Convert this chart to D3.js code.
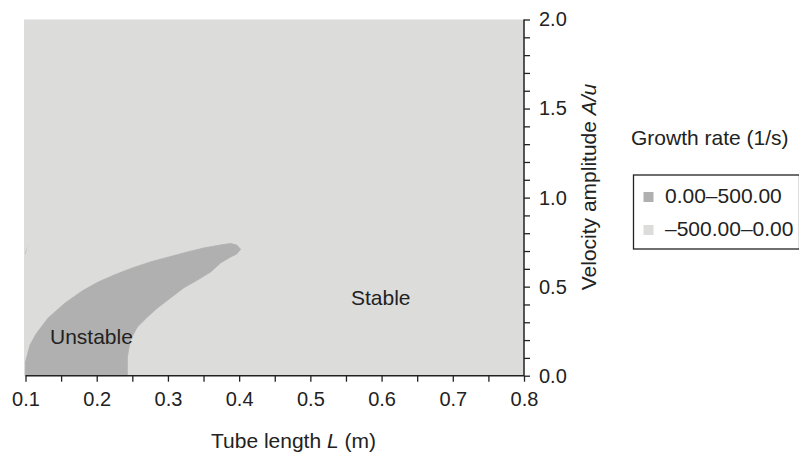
<!DOCTYPE html>
<html><head><meta charset="utf-8">
<script src="https://cdn.jsdelivr.net/npm/d3@7"></script>
<style>body{margin:0;background:#fff}svg text{font-family:"Liberation Sans",Arial,sans-serif;fill:#222}</style>
</head><body><svg id="c" width="799" height="454"></svg>
<script>
// Unstable region boundary (tube length L in m, velocity amplitude A/u)
const unstableL = [0.100,0.100,0.1063,0.1148,0.1317,0.1556,0.1796,0.2021,0.2261,0.2500,0.2754,0.3035,0.3275,0.3500,0.3739,0.3880,0.3965,0.4021,0.3965,0.3880,0.3739,0.3599,0.3415,0.3218,0.3035,0.2852,0.2711,0.2570,0.2472,0.2430,0.2430];
const unstableA = [0.000,0.077,0.172,0.234,0.324,0.408,0.476,0.526,0.568,0.605,0.639,0.669,0.695,0.717,0.734,0.742,0.734,0.710,0.683,0.667,0.633,0.582,0.537,0.492,0.436,0.380,0.329,0.273,0.200,0.105,0.000];
const sliverL = [0.1000,0.1035,0.1010,0.1000];
const sliverA = [0.690,0.740,0.700,0.680];
const xTicks = [0.1,0.2,0.3,0.4,0.5,0.6,0.7,0.8];
const yTicks = [0.0,0.5,1.0,1.5,2.0];
const legendLabels = ["0.00\u2013500.00","\u2013500.00\u20130.00"];
const legendColors = ["#b0b0b0","#dcdcdb"];

const svg = d3.select("#c");
const x = d3.scaleLinear().domain([0.1,0.8]).range([25.5,524]);
const y = d3.scaleLinear().domain([0,2]).range([375.7,19.5]);

svg.append("rect").attr("x",x(0.1)-1.5).attr("y",y(2)).attr("width",x(0.8)-x(0.1)+1.5).attr("height",y(0)-y(2)).attr("fill",legendColors[1]);

const lineLin = d3.line().x(d=>x(d[0])).y(d=>y(d[1]));
svg.append("path").attr("d",lineLin(d3.zip(unstableL,unstableA))+"Z").attr("fill",legendColors[0]).attr("stroke",legendColors[0]).attr("stroke-width",0.8).attr("stroke-linejoin","round");
svg.append("path").attr("d",lineLin(d3.zip(sliverL,sliverA))+"Z").attr("fill","#8a8a8a");

// x axis
const xa = svg.append("g").attr("transform",`translate(0,${y(0)})`)
  .call(d3.axisBottom(x).tickValues(d3.range(0.1,0.8001,0.05)).tickSize(6).tickFormat(d=>{const r=Math.round(d*100)/100; return xTicks.some(t=>Math.abs(t-r)<1e-6)?d3.format(".1f")(r):"";}));
xa.select(".domain").attr("stroke","#222").attr("stroke-width",1.5).attr("d",`M${x(0.1)},0H${x(0.8)}`);
xa.selectAll(".tick line").attr("stroke","#222").attr("stroke-width",1.3);
xa.selectAll("text").attr("font-size",20).attr("dy","0.71em").attr("y",16);

// y axis
const ya = svg.append("g").attr("transform",`translate(${x(0.8)},0)`)
  .call(d3.axisRight(y).tickValues(d3.range(0,2.0001,0.1)).tickSize(6).tickFormat(d=>{const r=Math.round(d*10)/10; return yTicks.some(t=>Math.abs(t-r)<1e-6)?d3.format(".1f")(r):"";}));
ya.select(".domain").attr("stroke","#222").attr("stroke-width",1.5).attr("d",`M0,${y(0)}V${y(2)}`);
ya.selectAll(".tick line").attr("stroke","#222").attr("stroke-width",1.3);
ya.selectAll("text").attr("font-size",20).attr("x",15);

// axis titles
const xt = svg.append("text").attr("x",211).attr("y",448).attr("font-size",21);
xt.append("tspan").text("Tube length ");
xt.append("tspan").attr("font-style","italic").text("L");
xt.append("tspan").text(" (m)");

const yt = svg.append("text").attr("transform","translate(596,187) rotate(-90)").attr("text-anchor","middle").attr("font-size",21);
yt.append("tspan").text("Velocity amplitude ");
yt.append("tspan").attr("font-style","italic").text("A/u");

// region labels
svg.append("text").attr("x",351).attr("y",305).attr("font-size",21).text("Stable");
svg.append("text").attr("x",50).attr("y",344).attr("font-size",21).text("Unstable");

// legend
svg.append("text").attr("x",631).attr("y",145).attr("font-size",21).text("Growth rate (1/s)");
svg.append("rect").attr("x",633.5).attr("y",175).attr("width",166).attr("height",74).attr("fill","none").attr("stroke","#222").attr("stroke-width",1.3);
legendLabels.forEach((t,i)=>{
  const yy = 197 + i*33;
  svg.append("rect").attr("x",643.5).attr("y",yy-5).attr("width",10).attr("height",10).attr("fill",legendColors[i]);
  svg.append("text").attr("x",665).attr("y",yy+6).attr("font-size",21).text(t);
});
</script></body></html>
